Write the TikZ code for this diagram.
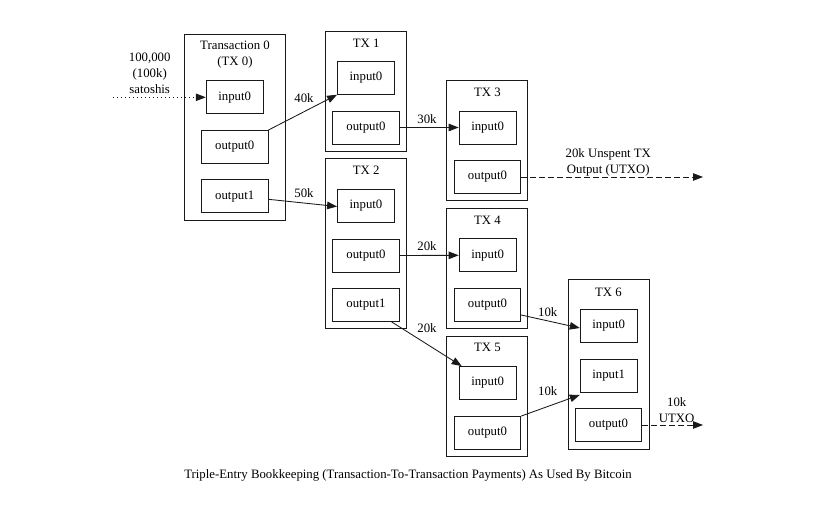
\documentclass[tikz,border=0pt]{standalone}
\usepackage{fontspec}
\setmainfont{Liberation Serif}
\usepackage{tikz}
\usetikzlibrary{arrows.meta}

\begin{document}
\begin{tikzpicture}[x=1pt,y=-1pt,
    every node/.style={font=\fontsize{12.8}{16}\selectfont},
    txbox/.style={draw=black!90, line width=0.85pt, minimum width=81pt, inner sep=0pt},
    inbox/.style={draw=black!90, line width=0.85pt, minimum width=57pt, minimum height=33pt, inner sep=0pt},
    outbox/.style={draw=black!90, line width=0.85pt, minimum width=66.5pt, minimum height=33pt, inner sep=0pt},
    pay/.style={draw=black!90, line width=0.85pt, -{Triangle[length=10pt,width=7.5pt]}}]
          \useasboundingbox (0,0) rectangle (840,513);
          % transactions
          \node[txbox, minimum width=101pt, minimum height=185.6pt] (tx0) at (234.8,127.5) {};
          \node[txbox, minimum height=119.3pt] (tx1) at (366.2,91.3) {};
          \node[txbox, minimum height=169.8pt] (tx2) at (366.2,243.6) {};
          \node[txbox, minimum height=120.5pt] (tx3) at (487.3,140.5) {};
          \node[txbox, minimum height=120.5pt] (tx4) at (487.3,268.6) {};
          \node[txbox, minimum height=120pt] (tx5) at (487.3,396.3) {};
          \node[txbox, minimum height=170pt] (tx6) at (608.8,364.3) {};
          \node[align=center] (tx0t) at (235,54.3) {Transaction 0\\(TX 0)};
          \node (tx1t) at (366.2,43.6) {TX 1};
          \node (tx2t) at (366.2,170.3) {TX 2};
          \node (tx3t) at (487.5,92) {TX 3};
          \node (tx4t) at (487.5,220.3) {TX 4};
          \node (tx5t) at (487.5,347.8) {TX 5};
          \node (tx6t) at (608.5,292) {TX 6};
          % inputs and outputs
          \node[inbox] (tx0i0) at (234.7,97.3) {input0};
          \node[outbox] (tx0o0) at (234.7,147) {output0};
          \node[outbox] (tx0o1) at (234.7,196.3) {output1};
          \node[inbox] (tx1i0) at (366,77.8) {input0};
          \node[outbox] (tx1o0) at (366,127.5) {output0};
          \node[inbox] (tx2i0) at (366,205.5) {input0};
          \node[outbox] (tx2o0) at (366,255.5) {output0};
          \node[outbox] (tx2o1) at (366,305) {output1};
          \node[inbox] (tx3i0) at (487.6,127.5) {input0};
          \node[outbox] (tx3o0) at (487.5,177) {output0};
          \node[inbox] (tx4i0) at (487.6,255.3) {input0};
          \node[outbox] (tx4o0) at (487.5,305) {output0};
          \node[inbox] (tx5i0) at (487.6,383) {input0};
          \node[outbox] (tx5o0) at (487.5,433) {output0};
          \node[inbox] (tx6i0) at (608.7,326) {input0};
          \node[inbox] (tx6i1) at (608.7,376) {input1};
          \node[outbox] (tx6o0) at (608.5,425) {output0};
          % payments
          \coordinate (coinbase) at (113,97.3);
          \coordinate (utxo3) at (703,177);
          \coordinate (utxo6) at (703,425);
          \draw[pay, dash pattern=on 1pt off 3pt] (coinbase) -- (tx0i0.west);
          \draw[pay] (tx0o0.north east) -- (tx1i0.south west);
          \draw[pay] ([yshift=-3pt]tx0o1.east) -- ([yshift=-1pt]tx2i0.west);
          \draw[pay] (tx1o0.east) -- (tx3i0.west);
          \draw[pay, dash pattern=on 6pt off 3pt] (tx3o0.east) -- (utxo3);
          \draw[pay] (tx2o0.east) -- (tx4i0.west);
          \draw[pay] ([xshift=-8pt]tx2o1.south east) -- ([xshift=3pt]tx5i0.north west);
          \draw[pay] ([yshift=-10pt]tx4o0.east) -- ([yshift=-2pt]tx6i0.west);
          \draw[pay] (tx5o0.north east) -- ([yshift=-2pt]tx6i1.south west);
          \draw[pay, dash pattern=on 6pt off 3pt] (tx6o0.east) -- (utxo6);
          % amounts
          \node[align=center] (amt0) at (149.7,73.6) {100,000\\(100k)\\satoshis};
          \node (amt1) at (304,98) {40k};
          \node (amt2) at (304,192.8) {50k};
          \node (amt3) at (427,119.3) {30k};
          \node[align=center] (amt4) at (608.3,162) {20k Unspent TX\\Output (UTXO)};
          \node (amt5) at (427,246.3) {20k};
          \node (amt6) at (427,328.6) {20k};
          \node (amt7) at (547.7,312) {10k};
          \node (amt8) at (547.7,391.3) {10k};
          \node[align=center] (amt9) at (676.7,409.8) {10k\\UTXO};
          \node (caption) at (408,475.3) {Triple-Entry Bookkeeping (Transaction-To-Transaction Payments) As Used By Bitcoin};
        \end{tikzpicture}
\end{document}
